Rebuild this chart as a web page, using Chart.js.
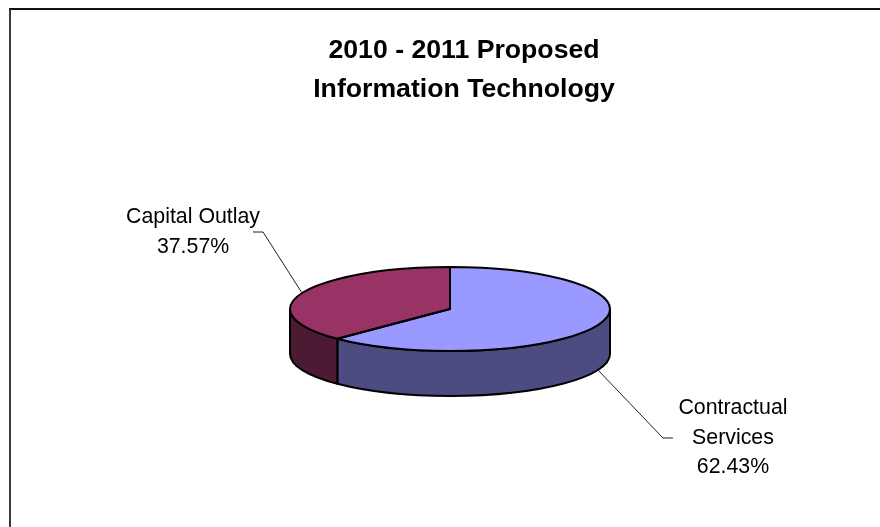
<!doctype html>
<html>

<head>
    <meta charset="utf-8">
    <title>2010 - 2011 Proposed Information Technology</title>
    <script src="https://cdn.jsdelivr.net/npm/chart.js"></script>
    <style>
        html, body { margin: 0; padding: 0; background: #fff; overflow: hidden; }
        .frame {
            position: absolute; left: 9px; top: 8px;
            width: 906px; height: 560px;
            border: 2px solid #111; border-left-color: #3a3a3a;
        }
        canvas { display: block; }
    </style>
</head>

<body>
    <div class="frame">
        <canvas id="itChart" width="906" height="560"></canvas>
    </div>
    <script>
        const categories = ['Contractual Services', 'Capital Outlay'];
        const shares = [62.43, 37.57];
        const titleLines = ['2010 - 2011 Proposed', 'Information Technology'];

        const topColors = ['#9999ff', '#993366'];
        const sideColors = ['#4c4c80', '#4d1a33'];

        const labelFont = "21.33px 'Liberation Sans', Arial, sans-serif";

        function wrapLabel(ctx, text, maxWidth) {
            const lines = [];
            let line = '';
            text.split(' ').forEach(w => {
                const test = line ? line + ' ' + w : w;
                if (line && ctx.measureText(test).width > maxWidth) {
                    lines.push(line);
                    line = w;
                } else {
                    line = test;
                }
            });
            lines.push(line);
            return lines;
        }

        // flat pie squashed into a disc, with a wall drawn under the front half
        const pie3d = {
            id: 'pie3d',
            afterLayout(chart) {
                // title is centred on the whole frame, not on the plot area
                chart.titleBlock.left = 0;
                chart.titleBlock.right = chart.width;
            },
            beforeDatasetsDraw(chart, args, opts) {
                const ctx = chart.ctx;
                const arcs = chart.getDatasetMeta(0).data;
                const { x, y, outerRadius: r } = arcs[0];
                const ry = r * opts.tilt;
                ctx.save();
                ctx.lineWidth = opts.edgeWidth;
                ctx.strokeStyle = opts.edgeColor;
                ctx.lineJoin = 'round';
                arcs.forEach((arc, i) => {
                    const s = Math.max(arc.startAngle, 0);
                    const e = Math.min(arc.endAngle, Math.PI);
                    if (s >= e) return;
                    ctx.beginPath();
                    ctx.ellipse(x, y, r, ry, 0, s, e);
                    ctx.ellipse(x, y + opts.depth, r, ry, 0, e, s, true);
                    ctx.closePath();
                    ctx.fillStyle = opts.sideColors[i];
                    ctx.fill();
                    ctx.stroke();
                });
                ctx.restore();

                ctx.save();
                ctx.translate(x, y);
                ctx.scale(1, opts.tilt);
                ctx.translate(-x, -y);
            },
            afterDatasetsDraw(chart, args, opts) {
                const ctx = chart.ctx;
                ctx.restore();

                const arcs = chart.getDatasetMeta(0).data;
                const { x, y, outerRadius: r } = arcs[0];
                const ry = r * opts.tilt;
                const values = chart.data.datasets[0].data;
                const total = values.reduce((a, b) => a + b, 0);

                ctx.save();
                ctx.lineJoin = 'round';
                ctx.strokeStyle = opts.edgeColor;
                ctx.lineWidth = opts.edgeWidth;
                arcs.forEach(arc => {
                    ctx.beginPath();
                    ctx.moveTo(x, y);
                    ctx.ellipse(x, y, r, ry, 0, arc.startAngle, arc.endAngle);
                    ctx.closePath();
                    ctx.stroke();
                });

                // data labels with leader lines
                ctx.font = labelFont;
                ctx.fillStyle = '#000';
                ctx.textAlign = 'center';
                ctx.textBaseline = 'middle';
                arcs.forEach((arc, i) => {
                    const mid = (arc.startAngle + arc.endAngle) / 2;
                    const dir = Math.cos(mid) >= 0 ? 1 : -1;
                    const ax = x + r * Math.cos(mid);
                    const ay = y + ry * Math.sin(mid) + (Math.sin(mid) > 0 ? opts.depth : 0);
                    const ex = ax + opts.leaders[i][0];
                    const ey = ay + opts.leaders[i][1];

                    ctx.beginPath();
                    ctx.lineWidth = 1;
                    ctx.strokeStyle = '#222';
                    ctx.moveTo(ax, ay);
                    ctx.lineTo(ex, ey);
                    ctx.lineTo(ex + dir * opts.tick, ey);
                    ctx.stroke();

                    const lines = wrapLabel(ctx, chart.data.labels[i], opts.wrapWidth);
                    lines.push((values[i] / total * 100).toFixed(2) + '%');
                    const cx = ex + dir * opts.textGap;
                    lines.forEach((t, k) => {
                        ctx.fillText(t, cx, ey + (k - (lines.length - 1) / 2) * opts.lineHeight);
                    });
                });
                ctx.restore();
            }
        };

        const itChart = new Chart(document.getElementById('itChart'), {
            type: 'pie',
            data: {
                labels: categories,
                datasets: [{
                    data: shares,
                    backgroundColor: topColors,
                    borderWidth: 0,
                    clip: false
                }]
            },
            options: {
                responsive: false,
                animation: false,
                events: [],
                radius: 160,
                layout: {
                    padding: { left: 0, right: 28, top: 0, bottom: 71 }
                },
                plugins: {
                    legend: { display: false },
                    tooltip: { enabled: false },
                    title: {
                        display: true,
                        text: titleLines,
                        color: '#000',
                        font: {
                            family: "'Liberation Sans', Arial, sans-serif",
                            size: 26.67,
                            weight: 'bold',
                            lineHeight: 1.4625
                        },
                        padding: { top: 21, bottom: 10 }
                    },
                    pie3d: {
                        tilt: 42 / 160,
                        depth: 45,
                        sideColors: sideColors,
                        edgeColor: '#000',
                        edgeWidth: 2,
                        leaders: [[65, 68], [-39, -61]],
                        tick: 10,
                        textGap: 70,
                        wrapWidth: 150,
                        lineHeight: 29.5
                    }
                }
            },
            plugins: [pie3d]
        });
    </script>
</body>

</html>
